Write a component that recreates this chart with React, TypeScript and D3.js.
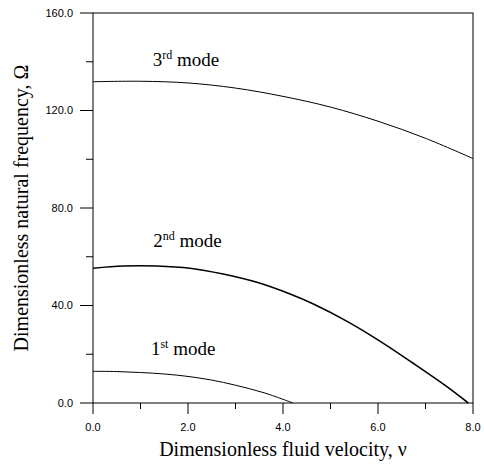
import React from "react";
import * as d3 from "d3";

const mode1V = [0, 0.5, 1.0, 1.5, 2.0, 2.5, 3.0, 3.6, 4.21];
const mode1W = [13.0, 12.9, 12.5, 11.9, 10.9, 9.4, 7.3, 4.2, 0];
const mode2V = [0, 0.64, 1.34, 2.04, 2.74, 3.45, 4.15, 4.64, 5.34, 6.04, 6.74, 7.45, 7.9];
const mode2W = [55.3, 56.2, 56.2, 55.3, 52.9, 49.5, 44.7, 40.6, 33.6, 25.4, 16.3, 6.7, 0];
const mode3V = [0, 1, 2, 3, 4, 5, 6, 7, 8];
const mode3W = [131.8, 132.0, 131.3, 129.2, 125.8, 121.4, 115.6, 108.6, 100.3];
const xMajor = [0, 2, 4, 6, 8];
const xMinor = [1, 3, 5, 7];
const yMajor = [0, 40, 80, 120, 160];
const yMinor = [20, 60, 100, 140];
const modeLabels = [
  { n: "3", sup: "rd", v: 1.257, w: 138.3 },
  { n: "2", sup: "nd", v: 1.27, w: 64.1 },
  { n: "1", sup: "st", v: 1.22, w: 19.7 },
];

export default function App() {
  const W = 484, H = 465;
  const x = d3.scaleLinear().domain([0, 8]).range([93, 473]);
  const y = d3.scaleLinear().domain([0, 160]).range([403, 13]);
  const line = d3
    .line<[number, number]>()
    .x((d) => x(d[0]))
    .y((d) => y(d[1]))
    .curve(d3.curveCatmullRom.alpha(0.5));
  const series = [
    { v: mode1V, w: mode1W, sw: 1 },
    { v: mode2V, w: mode2W, sw: 1.6 },
    { v: mode3V, w: mode3W, sw: 1 },
  ];
  const sans = "'Liberation Sans', Arial, sans-serif";
  const serif = "'Liberation Serif', 'Times New Roman', serif";
  return (
    <svg
      width={W}
      height={H}
      style={{ position: "absolute", left: 0, top: 0, background: "#fff" }}
    >
      <rect x={0} y={0} width={W} height={H} fill="#fff" />
      <rect x={x(0)} y={y(160)} width={x(8) - x(0)} height={y(0) - y(160)} fill="none" stroke="#000" strokeWidth={1} />
      {series.map((s, i) => (
        <path
          key={i}
          d={line(s.v.map((v, j) => [v, s.w[j]] as [number, number])) || ""}
          fill="none"
          stroke="#000"
          strokeWidth={s.sw}
        />
      ))}
      {yMajor.map((t) => (
        <g key={"ym" + t}>
          <line x1={x(0) - 13} x2={x(0)} y1={y(t)} y2={y(t)} stroke="#000" strokeWidth={1} />
          <text x={73} y={y(t)} dy="0.35em" textAnchor="end" style={{ fontFamily: sans }} fontSize={11}>
            {t.toFixed(1)}
          </text>
        </g>
      ))}
      {yMinor.map((t) => (
        <line key={"yn" + t} x1={x(0) - 7} x2={x(0)} y1={y(t)} y2={y(t)} stroke="#000" strokeWidth={1} />
      ))}
      {xMajor.map((t) => (
        <g key={"xm" + t}>
          <line x1={x(t)} x2={x(t)} y1={y(0)} y2={y(0) + 11} stroke="#000" strokeWidth={1} />
          <text x={x(t)} y={431} textAnchor="middle" style={{ fontFamily: sans }} fontSize={11}>
            {t.toFixed(1)}
          </text>
        </g>
      ))}
      {xMinor.map((t) => (
        <line key={"xn" + t} x1={x(t)} x2={x(t)} y1={y(0)} y2={y(0) + 6} stroke="#000" strokeWidth={1} />
      ))}
      {modeLabels.map((m, i) => (
        <text key={i} x={x(m.v)} y={y(m.w)} style={{ fontFamily: serif }} fontSize={19}>
          <tspan style={{ fontFamily: serif }}>{m.n}</tspan>
          <tspan style={{ fontFamily: serif }} fontSize={12} dy={-7}>{m.sup}</tspan>
          <tspan style={{ fontFamily: serif }} dy={7}>{"\u00A0mode"}</tspan>
        </text>
      ))}
      <text x={(x(0) + x(8)) / 2} y={456} textAnchor="middle" style={{ fontFamily: serif }} fontSize={20}>
        Dimensionless fluid velocity, ν
      </text>
      <text
        transform={`translate(28,${(y(0) + y(160)) / 2}) rotate(-90)`}
        textAnchor="middle"
        style={{ fontFamily: serif }}
        fontSize={20}
      >
        Dimensionless natural frequency, Ω
      </text>
    </svg>
  );
}
